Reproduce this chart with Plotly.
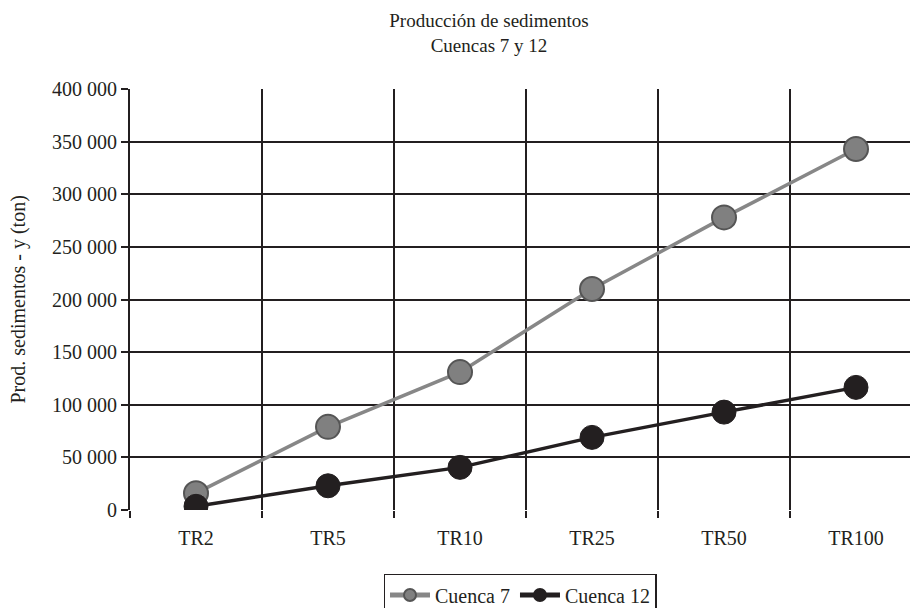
import plotly.graph_objects as go

# Return periods and sediment yield (ton) for each basin
periodos = ["TR2", "TR5", "TR10", "TR25", "TR50", "TR100"]
cuenca_7 = [16000, 79000, 131000, 210000, 278000, 343000]
cuenca_12 = [3500, 23000, 40500, 69000, 93000, 116500]

y_ticks = [0, 50000, 100000, 150000, 200000, 250000, 300000, 350000, 400000]
y_labels = ["0", "50 000", "100 000", "150 000", "200 000", "250 000",
            "300 000", "350 000", "400 000"]

FONT = "Liberation Serif, DejaVu Serif, serif"
INK = "#231f20"
L, R, T, B, W, H = 130, 0, 89, 98, 910, 608

fig = go.Figure()
fig.add_trace(go.Scatter(
    x=periodos, y=cuenca_7, name="Cuenca 7", mode="lines+markers",
    line=dict(color="#878787", width=3.5),
    marker=dict(size=24, color="#808080", line=dict(color="#555555", width=2)),
))
fig.add_trace(go.Scatter(
    x=periodos, y=cuenca_12, name="Cuenca 12", mode="lines+markers",
    line=dict(color=INK, width=3.5),
    marker=dict(size=24, color=INK, line=dict(color=INK, width=1)),
))

fig.update_layout(
    width=W, height=H,
    margin=dict(l=L, r=R, t=T, b=B, autoexpand=False),
    paper_bgcolor="white", plot_bgcolor="white",
    font=dict(family=FONT, size=20, color=INK),
    title=dict(
        text="Producción de sedimentos<br>Cuencas 7 y 12",
        x=489 / W, xanchor="center", xref="container",
        y=1 - 27 / H, yanchor="middle", yref="container",
        font=dict(family=FONT, size=19, color=INK),
    ),
    showlegend=True,
    legend=dict(
        orientation="h", x=0.5, xanchor="center", y=-0.152, yanchor="top",
        bordercolor=INK, borderwidth=1.5, itemsizing="constant",
        font=dict(family=FONT, size=20, color=INK),
        itemwidth=40,
    ),
    xaxis=dict(
        type="category", range=[-0.5, 5.409],
        tickson="boundaries", ticks="outside", ticklen=7,
        tickcolor=INK, tickwidth=2, ticklabelstandoff=14,
        showgrid=True, gridcolor=INK, gridwidth=2,
        showline=False, tickfont=dict(size=20),
    ),
    yaxis=dict(
        range=[0, 400000], tickvals=y_ticks, ticktext=y_labels,
        ticks="outside", ticklen=7, tickcolor=INK, tickwidth=2,
        showgrid=True, gridcolor=INK, gridwidth=2,
        showline=True, linecolor=INK, linewidth=2,
        zeroline=False, tickfont=dict(size=20),
    ),
    annotations=[dict(
        text="Prod. sedimentos - y (ton)", textangle=-90,
        xref="paper", yref="paper",
        x=(18 - L) / (W - L - R), y=0.5,
        xanchor="center", yanchor="middle", showarrow=False,
        font=dict(family=FONT, size=20, color=INK),
    )],
)

fig.write_html("out.html")
